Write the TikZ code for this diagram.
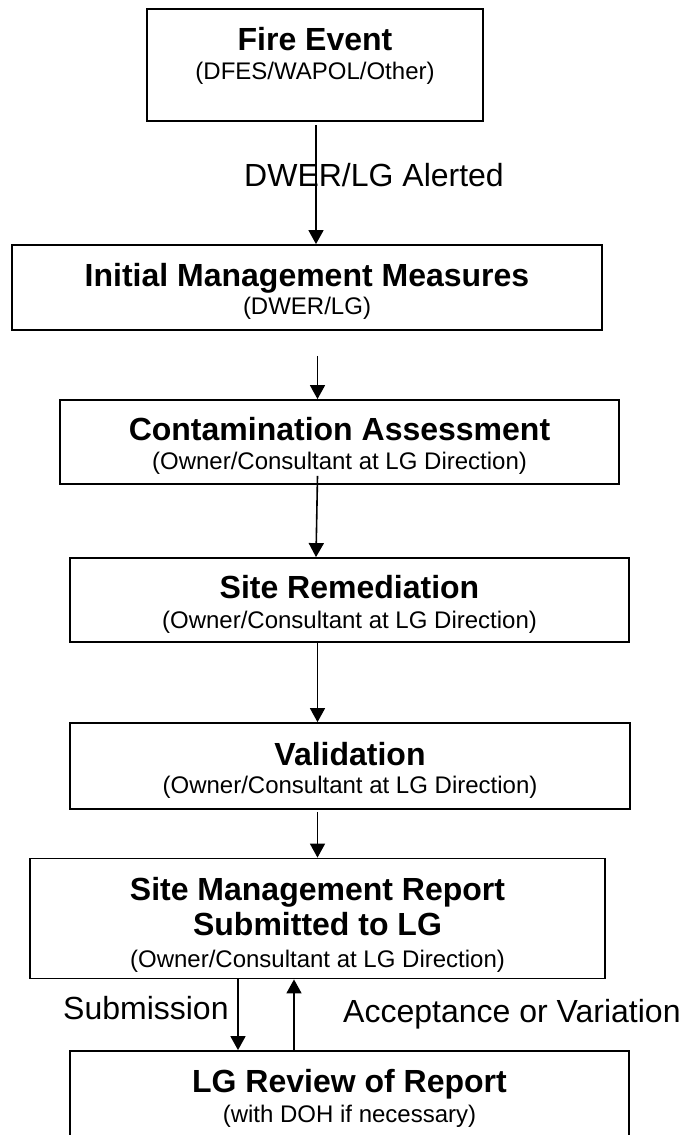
\documentclass[tikz,border=0pt]{standalone}
\usepackage{fontspec}
\setmainfont{Liberation Sans}
\usetikzlibrary{arrows.meta}
\begin{document}
\begin{tikzpicture}[x=1pt,y=-1pt,
  box/.style={draw, line width=1.8pt, inner sep=0pt},
  head/.style={font=\fontsize{32}{36}\selectfont\bfseries, anchor=base, inner sep=0pt},
  sub/.style={font=\fontsize{24}{28}\selectfont, anchor=base, inner sep=0pt},
  lab/.style={font=\fontsize{32}{36}\selectfont, inner sep=0pt},
  arr/.style={line width=1.6pt, -{Triangle[length=14pt,width=15pt]}}]
\fill[white] (0,0) rectangle (684,1135);
\useasboundingbox (0,0) rectangle (684,1135);
% boxes
\node[box, minimum width=336pt, minimum height=112pt] (fire) at (315,65) {};
\node[box, minimum width=590pt, minimum height=85pt] (imm) at (307,287.5) {};
\node[box, minimum width=559pt, minimum height=84pt] (ca) at (339.5,442) {};
\node[box, minimum width=559pt, minimum height=84pt] (sr) at (349.5,600) {};
\node[box, minimum width=560pt, minimum height=86pt] (val) at (350,766) {};
\node[box, minimum width=575pt, minimum height=120pt] (smr) at (317.5,918.5) {};
\node[box, minimum width=559pt, minimum height=100pt] (lg) at (349.5,1101) {};
% texts
\node[head] (t1a) at (315,50) {Fire Event};
\node[sub] (t1b) at (315,79) {(DFES/WAPOL/Other)};
\node[head] (t2a) at (307,286) {Initial Management Measures};
\node[sub] (t2b) at (307,314) {(DWER/LG)};
\node[head] (t3a) at (339.5,440) {Contamination Assessment};
\node[sub] (t3b) at (339.5,469) {(Owner/Consultant at LG Direction)};
\node[head] (t4a) at (349.5,598) {Site Remediation};
\node[sub] (t4b) at (349.5,628) {(Owner/Consultant at LG Direction)};
\node[head] (t5a) at (350,765) {Validation};
\node[sub] (t5b) at (350,793) {(Owner/Consultant at LG Direction)};
\node[head] (t6a) at (317.5,900) {Site Management Report};
\node[head] (t6b) at (317.5,935) {Submitted to LG};
\node[sub] (t6c) at (317.5,967) {(Owner/Consultant at LG Direction)};
\node[head] (t7a) at (349.5,1092) {LG Review of Report};
\node[sub] (t7b) at (349.5,1122) {(with DOH if necessary)};
% labels
\node[lab, anchor=base west] (l1) at (244,186) {DWER/LG Alerted};
\node[lab, anchor=base west] (l2) at (63,1019) {Submission};
\node[lab, anchor=base west] (l3) at (343,1022) {Acceptance or Variation};
% axes
\coordinate (ax1) at (316,0);
\coordinate (ax) at (317.5,0);
\coordinate (sx) at (238,0);
\coordinate (ux) at (294,0);
% connectors
\draw[arr, shorten <=3pt] (fire.south -| ax1) -- (imm.north -| ax1);
\draw[arr, shorten <=25pt] (imm.south -| ax) -- (ca.north -| ax);
\draw[arr] ([yshift=9pt]ca.south -| ax) -- (sr.north -| ax1);
\draw[arr] (sr.south -| ax) -- (val.north -| ax);
\draw[arr, shorten <=2pt] (val.south -| ax) -- (smr.north -| ax);
\draw[arr] (smr.south -| sx) -- (lg.north -| sx);
\draw[arr] (lg.north -| ux) -- (smr.south -| ux);
\end{tikzpicture}
\end{document}
